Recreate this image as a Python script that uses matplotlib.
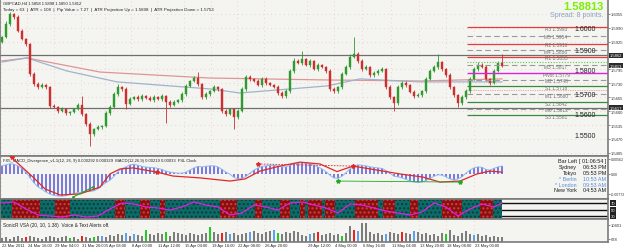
import numpy as np
import matplotlib.pyplot as plt
from matplotlib.patches import Rectangle

plt.rcParams['font.family'] = ['Liberation Sans', 'DejaVu Sans']

# ---- price data (H4 candles, GBPCAD) ----
closes = [1.5947, 1.6008, 1.6055, 1.6041, 1.5975, 1.5938, 1.5914, 1.5774, 1.5727, 1.5713,
          1.5723, 1.5713, 1.5624, 1.5620, 1.5601, 1.5610, 1.5592, 1.5596, 1.5610, 1.5629,
          1.5587, 1.5540, 1.5493, 1.5517, 1.5526, 1.5531, 1.5592, 1.5620, 1.5680, 1.5713,
          1.5704, 1.5634, 1.5657, 1.5666, 1.5657, 1.5671, 1.5662, 1.5652, 1.5666, 1.5657,
          1.5671, 1.5643, 1.5629, 1.5643, 1.5652, 1.5680, 1.5718, 1.5741, 1.5755, 1.5727,
          1.5666, 1.5680, 1.5694, 1.5713, 1.5704, 1.5601, 1.5587, 1.5610, 1.5573, 1.5601,
          1.5704, 1.5760, 1.5751, 1.5741, 1.5723, 1.5751, 1.5732, 1.5723, 1.5713, 1.5685,
          1.5671, 1.5694, 1.5788, 1.5835, 1.5825, 1.5844, 1.5816, 1.5835, 1.5797, 1.5816,
          1.5807, 1.5788, 1.5704, 1.5694, 1.5713, 1.5774, 1.5807, 1.5854, 1.5868, 1.5835,
          1.5797, 1.5807, 1.5769, 1.5779, 1.5788, 1.5797, 1.5713, 1.5666, 1.5638, 1.5713,
          1.5732, 1.5723, 1.5690, 1.5671, 1.5676, 1.5694, 1.5751, 1.5788, 1.5807, 1.5830,
          1.5797, 1.5769, 1.5713, 1.5676, 1.5638, 1.5666, 1.5694, 1.5751, 1.5797, 1.5816,
          1.5807, 1.5751, 1.5732, 1.5788, 1.5825, 1.5813]
first_open = 1.5925
wick_up = [6, 12, 8, 5, 7, 10, 6, 5, 8, 9, 7, 6, 5, 8, 6, 9, 5, 7, 6, 10,
           40, 6, 8, 5, 7, 6, 9, 8, 10, 12, 6, 7, 9, 5, 8, 10, 6, 7, 9, 6,
           8, 5, 7, 9, 6, 8, 10, 7, 9, 30, 6, 8, 7, 9, 6, 5, 8, 7, 6, 9,
           10, 8, 7, 6, 9, 8, 7, 6, 5, 8, 7, 9, 10, 12, 8, 38, 7, 9, 6, 8,
           7, 6, 8, 9, 7, 10, 9, 12, 79, 8, 7, 9, 6, 8, 7, 10, 6, 8, 7, 9,
           8, 7, 6, 9, 8, 7, 10, 9, 8, 38, 7, 6, 8, 7, 6, 9, 8, 10, 9, 12,
           8, 7, 6, 9, 10, 42]
wick_dn = [7, 6, 9, 8, 6, 7, 9, 10, 8, 7, 6, 9, 8, 7, 10, 6, 8, 9, 7, 6,
           9, 10, 56, 8, 7, 9, 6, 8, 7, 9, 10, 22, 7, 6, 8, 9, 7, 6, 8, 7,
           9, 100, 8, 7, 6, 9, 8, 7, 6, 9, 8, 7, 9, 6, 8, 10, 9, 7, 56, 8,
           7, 9, 8, 6, 7, 9, 8, 7, 6, 9, 10, 8, 7, 9, 6, 8, 7, 9, 6, 8,
           7, 9, 10, 8, 7, 9, 6, 8, 7, 9, 8, 6, 7, 9, 8, 7, 9, 10, 37, 8,
           7, 9, 6, 8, 7, 9, 8, 7, 6, 9, 8, 7, 10, 9, 18, 8, 7, 9, 6, 8,
           7, 9, 8, 7, 6, 8]

# moving averages (sparse points: candle index, price)
ma_red_x = [0, 6.25, 24.5, 52, 81.25, 104.5, 125]
ma_red_y = [1.5835, 1.5849, 1.5783, 1.5755, 1.5746, 1.5741, 1.5751]
ma_blue_x = [0, 6.25, 16.25, 28.75, 52, 59.5, 81.25, 89.5, 104.5, 125]
ma_blue_y = [1.5830, 1.5849, 1.5788, 1.5737, 1.5704, 1.5685, 1.5718, 1.5751, 1.5737, 1.5737]

# horizontal levels
week_levels = [1.5862, 1.5617]
piv_names = ['R3', 'M5', 'R2', 'M4', 'R1', 'M3', 'Pivot', 'M2', 'S1', 'M1', 'S2', 'M0', 'S3']
piv_values = [1.5993, 1.5954, 1.5916, 1.5886, 1.5855, 1.5817, 1.5779, 1.5748, 1.5718, 1.5680,
              1.5642, 1.5612, 1.5581]
piv_kind = ['r', 'm', 'r', 'm', 'r', 'm', 'p', 'm', 's', 'm', 's', 'm', 's']
round_labels = ['1.6000', '1.5900', '1.5800', '1.5700', '1.5600', '1.5500']
round_pos = [1.5985, 1.5882, 1.5788, 1.5680, 1.5582, 1.5484]
price_ticks = [1.6055, 1.5990, 1.5925, 1.5795, 1.5730, 1.5665, 1.5600, 1.5535, 1.5470, 1.5405]
price_boxes = [1.5862, 1.5813, 1.5617]

# ---- MACD (x1e-3) ----
macd_hist = [3.0, 3.4, 3.8, 3.6, 3.0, 2.0, 0.5, -1.5, -3.5, -5.0,
             -6.0, -7.0, -7.8, -8.3, -8.5, -8.6, -8.4, -8.0, -7.6, -7.2,
             -7.0, -6.8, -6.8, -6.5, -5.8, -4.5, -3.4, -2.5, -1.0, 0.8,
             2.0, 2.6, 3.4, 3.6, 3.2, 2.8, 2.5, 2.4, 2.3, 2.0,
             1.6, 1.0, 0.6, 0.4, 0.2, 0.2, 0.6, 1.4, 2.2, 2.8,
             2.6, 2.8, 3.0, 3.0, 2.6, 1.6, 0.6, -0.2, -1.4, -2.0,
             -1.8, -1.0, 0.2, 1.4, 2.2, 2.8, 3.0, 3.2, 3.2, 3.0,
             2.6, 2.6, 3.2, 3.8, 4.0, 4.2, 4.0, 3.8, 3.2, 2.6,
             1.8, 0.8, -0.6, -1.6, -1.8, -1.0, 0.4, 1.8, 3.0, 3.4,
             3.2, 3.0, 2.6, 2.4, 2.2, 2.0, 1.2, 0.2, -1.0, -1.2,
             -1.6, -2.2, -2.8, -3.2, -3.4, -3.2, -2.6, -1.8, -1.0, -0.4,
             -0.6, -1.2, -2.0, -2.4, -2.0, -1.2, 0.2, 1.4, 2.2, 2.6,
             2.4, 1.6, 1.4, 2.0, 2.6, 2.9]
sig_x = [2, 7.75, 10.75, 14.5, 19.5, 24.5, 27, 29.5, 32.75, 38.75, 42.75, 49.5, 57, 60.75,
         64.5, 69.5, 74.5, 79.5, 83.75, 87.75, 95.25, 99.5, 105.25, 109.5, 114.5, 118.75, 122, 125]
sig_y = [6.7, -1.3, -5.8, -8.1, -7.7, -5.1, -0.1, 1.8, 2.2, 0.6, -0.9, -1.6, -2.8, -2.0,
         1.0, 2.9, 4.4, 3.7, 0.8, 2.9, 1.0, -0.1, -1.3, -3.2, -2.8, -0.1, 1.0, 0.6]
clock_names = ['Bar Left', 'Sydney', 'Tokyo', '* Berlin', '* London', 'New York']
clock_times = ['[ 01:06:54 ]', '06:53 PM', '05:53 PM', '10:53 AM', '09:53 AM', '04:53 AM']

# ---- colour band panel ----
band_edges = [-0.5, 2.5, 9.5, 13.25, 17, 28.25, 30.75, 34.5, 37, 39.5, 40.75, 54.5, 58.75,
              63.25, 65, 69.5, 72, 74.5, 75.75, 76.5, 80, 80.75, 83.25, 88.25, 94, 95.25,
              98.25, 102, 104, 110, 115, 119.5, 122.75, 125]
osc_x = [0, 3, 6, 9, 12, 15, 18, 21, 24, 27, 30, 33, 36, 39, 42, 45, 48, 51, 54, 57, 60,
         63, 66, 69, 72, 75, 78, 81, 84, 87, 90, 93, 96, 99, 102, 105, 108, 111, 114, 117,
         120, 123, 125]
osc_y = [0.8, 0.85, 0.5, 0.2, 0.15, 0.1, 0.2, 0.1, 0.15, 0.5, 0.8, 0.75, 0.6, 0.55, 0.45,
         0.6, 0.85, 0.7, 0.6, 0.2, 0.3, 0.7, 0.6, 0.45, 0.8, 0.85, 0.7, 0.55, 0.3, 0.75,
         0.7, 0.55, 0.4, 0.3, 0.2, 0.35, 0.8, 0.6, 0.15, 0.5, 0.75, 0.6, 0.8]
band_levels = [0.8, 0.45, 0.15]
band_tags = ['70', '50', '30']

# ---- volume ----
volume = [4, 5, 3, 5, 6, 4, 5, 6, 5, 4, 3, 5, 6, 5, 4, 5, 6, 4, 5, 3, 6, 5, 4, 5, 6,
          6, 5, 7, 6, 8, 7, 9, 6, 8, 7, 6, 12, 8, 7, 9, 8, 10, 6, 10, 9, 8, 7, 9, 8, 7,
          8, 9, 15, 10, 8, 9, 10, 8, 9, 7, 8, 9, 10, 11, 9, 8, 10, 11, 12, 9, 8, 10, 9, 11, 10,
          7, 6, 8, 9, 10, 7, 8, 9, 7, 8, 6, 9, 16, 12, 11, 19, 19, 10, 8, 9, 7, 8, 10, 9, 8,
          10, 9, 8, 11, 10, 8, 9, 7, 8, 6, 9, 8, 12, 7, 6, 9, 11, 8, 7, 8, 6, 7, 5, 6, 5, 5]
vol_kind = ('nnnnnnrnnnnnnnnnnGnnrnnGnbnnnnnbnbnnGnnnnGnnnnnnnn'
            'nnGnnrnbnnnnbnnnnnbGnnnnnnnbnrnnnnnGnnrbnnnnnnbnn'
            'nrnnbnnnnnnnGnnnnnnbnnnnnnn')
time_labels = ['22 Mar 2011', '24 Mar 16:00', '29 Mar 04:00', '31 Mar 20:00', '5 Apr 08:00',
               '8 Apr 00:00', '11 Apr 12:00', '15 Apr 04:00', '19 Apr 16:00', '22 Apr 08:00',
               '26 Apr 20:00', '29 Apr 12:00', '4 May 00:00', '6 May 16:00', '11 May 04:00',
               '13 May 20:00', '18 May 08:00', '23 May 00:00']
time_pos = [-0.25, 6.25, 13, 19.75, 25.75, 32.25, 38.75, 45.5, 52.25, 58.75, 65.5, 76.25,
            83, 90, 97.25, 104.25, 111, 118]

W, H = 625, 251
XR = 608
BG = '#f4f4f1'
GRID = '#e9b3b3'
SMALL = 3.0


def rect(x0, y0, x1, y1):
    return [x0 / W, 1 - y1 / H, (x1 - x0) / W, (y1 - y0) / H]


def ftext(x, y, s, **kw):
    fig.text(x / W, 1 - y / H, s, **kw)


fig = plt.figure(figsize=(6.25, 2.51), dpi=100, facecolor='white')
ax = fig.add_axes(rect(0, 0, XR, 157))
axm = fig.add_axes(rect(0, 157, XR, 200), sharex=ax)
axb = fig.add_axes(rect(0, 200, XR, 220), sharex=ax)
axv = fig.add_axes(rect(0, 220, XR, 243), sharex=ax)

xlim = (-0.5, -0.5 + XR / 4)
for a in (ax, axm, axb, axv):
    a.set_facecolor(BG)
    a.set_xlim(*xlim)
    for s in a.spines.values():
        s.set_color('#7a7a7a')
        s.set_linewidth(1.2)
    a.tick_params(axis='x', length=0, labelbottom=False)
    a.yaxis.tick_right()
    a.tick_params(axis='y', length=1.5, width=0.5, color='#555555', labelsize=SMALL,
                  pad=0.6, labelcolor='#333333')
    for t in time_pos:
        a.axvline(t, color=GRID, lw=0.5, ls=(0, (1, 5)), zorder=0)

# ---- main price panel ----
n = len(closes)
idx = np.arange(n)
opens = [first_open] + closes[:-1]
ax.set_ylim(1.5390, 1.6125)
for y in price_ticks:
    ax.axhline(y, color=GRID, lw=0.5, ls=(0, (1, 5)), zorder=0)
for i in range(n):
    o, c = opens[i], closes[i]
    up = c >= o
    col = '#2f9a2f' if up else '#cc2f2f'
    hi = max(o, c) + wick_up[i] * 1e-4
    lo = min(o, c) - wick_dn[i] * 1e-4
    ax.vlines(i, lo, hi, color=col, lw=0.6, zorder=3)
    ax.bar(i, max(abs(c - o), 0.00012), bottom=min(o, c), width=0.55, color=col,
           edgecolor=col, lw=0.3, zorder=4)
ax.plot(ma_red_x, ma_red_y, color='#e09595', lw=0.9, zorder=2)
ax.plot(ma_blue_x, ma_blue_y, color='#9fb4cc', lw=0.9, zorder=2)
for y in week_levels:
    ax.axhline(y, color='#6e6e6e', lw=0.9, zorder=2)

piv_x0 = 116.25
piv_style = {'r': ('#e83a3a', '-', 0.9), 'm': ('#9a9a9a', (0, (5, 3)), 0.8),
             'p': ('#e020e0', '-', 1.0), 's': ('#3a8a3a', '-', 0.9)}
for name, val, k in zip(piv_names, piv_values, piv_kind):
    col, ls, lw = piv_style[k]
    ax.hlines(val, piv_x0, xlim[1], color=col, ls=ls, lw=lw, zorder=5)
    ax.text(138.5, val - 0.0006, f'{name} {val:.4f}', fontsize=3.4, color='#707070',
            ha='center', va='center', zorder=6)
ax.hlines(1.5832, piv_x0, xlim[1], color='#55cc55', ls=(0, (1, 1.5)), lw=0.8, zorder=5)
ax.hlines(1.5699, piv_x0, xlim[1], color='#dd6666', ls=(0, (1, 1.5)), lw=0.5, zorder=5)
for lab, p in zip(round_labels, round_pos):
    ax.text(148.5, p, lab, fontsize=5, color='#222222', ha='right', va='center', zorder=6)

ax.set_yticks(price_ticks)
ax.set_yticklabels([f'{v:.4f}' for v in price_ticks])
for p in price_boxes:
    ax.text(1.003, (p - 1.5390) / (1.6125 - 1.5390), f'{p:.4f}', transform=ax.transAxes,
            fontsize=SMALL, color='white', ha='left', va='center',
            bbox=dict(boxstyle='square,pad=0.15', fc='#2b2b2b', ec='none'), clip_on=False)

ftext(3, 4, 'GBPCAD,H4 1.5858 1.5898 1.5850 1.5812', fontsize=3.0, color='#222222', va='center')
ftext(3, 10, 'Today = 63  |  ATR = 108  |  Pip Value = 7.27  |  ATR Projection Up = 1.5898'
      '  |  ATR Projection Down = 1.5753', fontsize=3.2, color='#222222', va='center')
ftext(603, 7, '1.58813', fontsize=8, color='#7cf000', fontweight='bold', ha='right', va='center')
ftext(603, 16, 'Spread: 8 points.', fontsize=5, color='#8aa2c0', ha='right', va='center')

# ---- MACD panel ----
axm.set_ylim(-9.64, 6.74)
axm.bar(idx, macd_hist, width=0.35, color='#7c7ce0', zorder=2)
axm.plot(idx, macd_hist, color='#8fb8ee', lw=0.7, zorder=3)
axm.plot(sig_x, sig_y, color='#e02828', lw=0.9, zorder=4)
axm.plot([17.75, 22.75], [-8.9, -5.1], color='#22aa22', lw=0.8, zorder=5, marker='.', ms=2)
axm.plot([84, 114.5], [-2.8, -3.2], color='#22aa22', lw=0.6, zorder=5)
axm.plot([64, 87.75], [3.7, 2.9], color='#e02828', lw=0.6, ls=(0, (2, 1.5)), zorder=5)
axm.plot([2.5, 38.75, 64, 87.75], [6.4, 0.6, 3.7, 2.9], ls='none', marker='*', ms=3,
         color='#e02828', zorder=6)
axm.plot([84, 114.5], [-2.8, -3.2], ls='none', marker='*', ms=3, color='#22aa22', zorder=6)
axm.set_yticks([5.62, 0, -7.72])
axm.set_yticklabels(['0.00562', '0.00', '-0.00772'])
axm.tick_params(axis='y', labelsize=2.6)
axm.text(0.005, 0.9, 'FX5_MACD_Divergence_v1.1(12, 26, 9) 0.000292 0.000329  '
         'MACD(12,26,9) 0.00219 0.00033  P4L Clock', transform=axm.transAxes,
         fontsize=3.0, color='#222222', va='center')
for k, (nm, tm) in enumerate(zip(clock_names, clock_times)):
    y = 162 + k * 5.8
    col = '#5a8fd8' if nm.startswith('*') else '#1a1a1a'
    ftext(577, y, nm, fontsize=3.9, color=col, ha='right', va='center')
    ftext(606, y, tm, fontsize=3.9, color=col, ha='right', va='center')

# ---- colour band panel ----
axb.set_ylim(0, 1)
for lv in band_levels:
    axb.axhline(lv, color='#111111', lw=1.0, zorder=1)
for k in range(len(band_edges) - 1):
    x0, x1 = band_edges[k], band_edges[k + 1]
    red = k % 2 == 1
    fc = '#8a1010' if red else '#0d6b68'
    hc = '#d04040' if red else '#083c3a'
    axb.add_patch(Rectangle((x0, 0), x1 - x0, 1, facecolor=fc, edgecolor=hc, lw=0,
                            hatch='....', zorder=2))
axb.plot(osc_x, osc_y, color='#e020e0', lw=0.9, zorder=4)
axb.set_yticks([])
for lv, tag in zip(band_levels, band_tags):
    axb.text(1.004, lv, tag, transform=axb.get_yaxis_transform(), fontsize=SMALL,
             color='white', ha='left', va='center',
             bbox=dict(boxstyle='square,pad=0.15', fc='#222222', ec='none'), clip_on=False)

# ---- volume panel ----
axv.set_ylim(0, 23)
vcols = {'n': '#7d7d7d', 'b': '#5fa0ee', 'G': '#22cc22', 'r': '#ee2020'}
axv.bar(idx, volume, width=0.6, color=[vcols[c] for c in vol_kind[:n]], zorder=2)
axv.set_yticks([17.5, 3])
axv.set_yticklabels(['10401', '678'])
axv.text(0.005, 0.78, 'SonicR VSA (20, 10, 1.38)  Voice & Text Alerts off.',
         transform=axv.transAxes, fontsize=3.4, color='#222222', va='center')

for t, lab in zip(time_pos, time_labels):
    ftext((t + 0.5) * 4 + 1, 246.5, lab, fontsize=2.9, color='#222222', ha='left', va='center')

fig.savefig('out.png', dpi=100, facecolor='white')
